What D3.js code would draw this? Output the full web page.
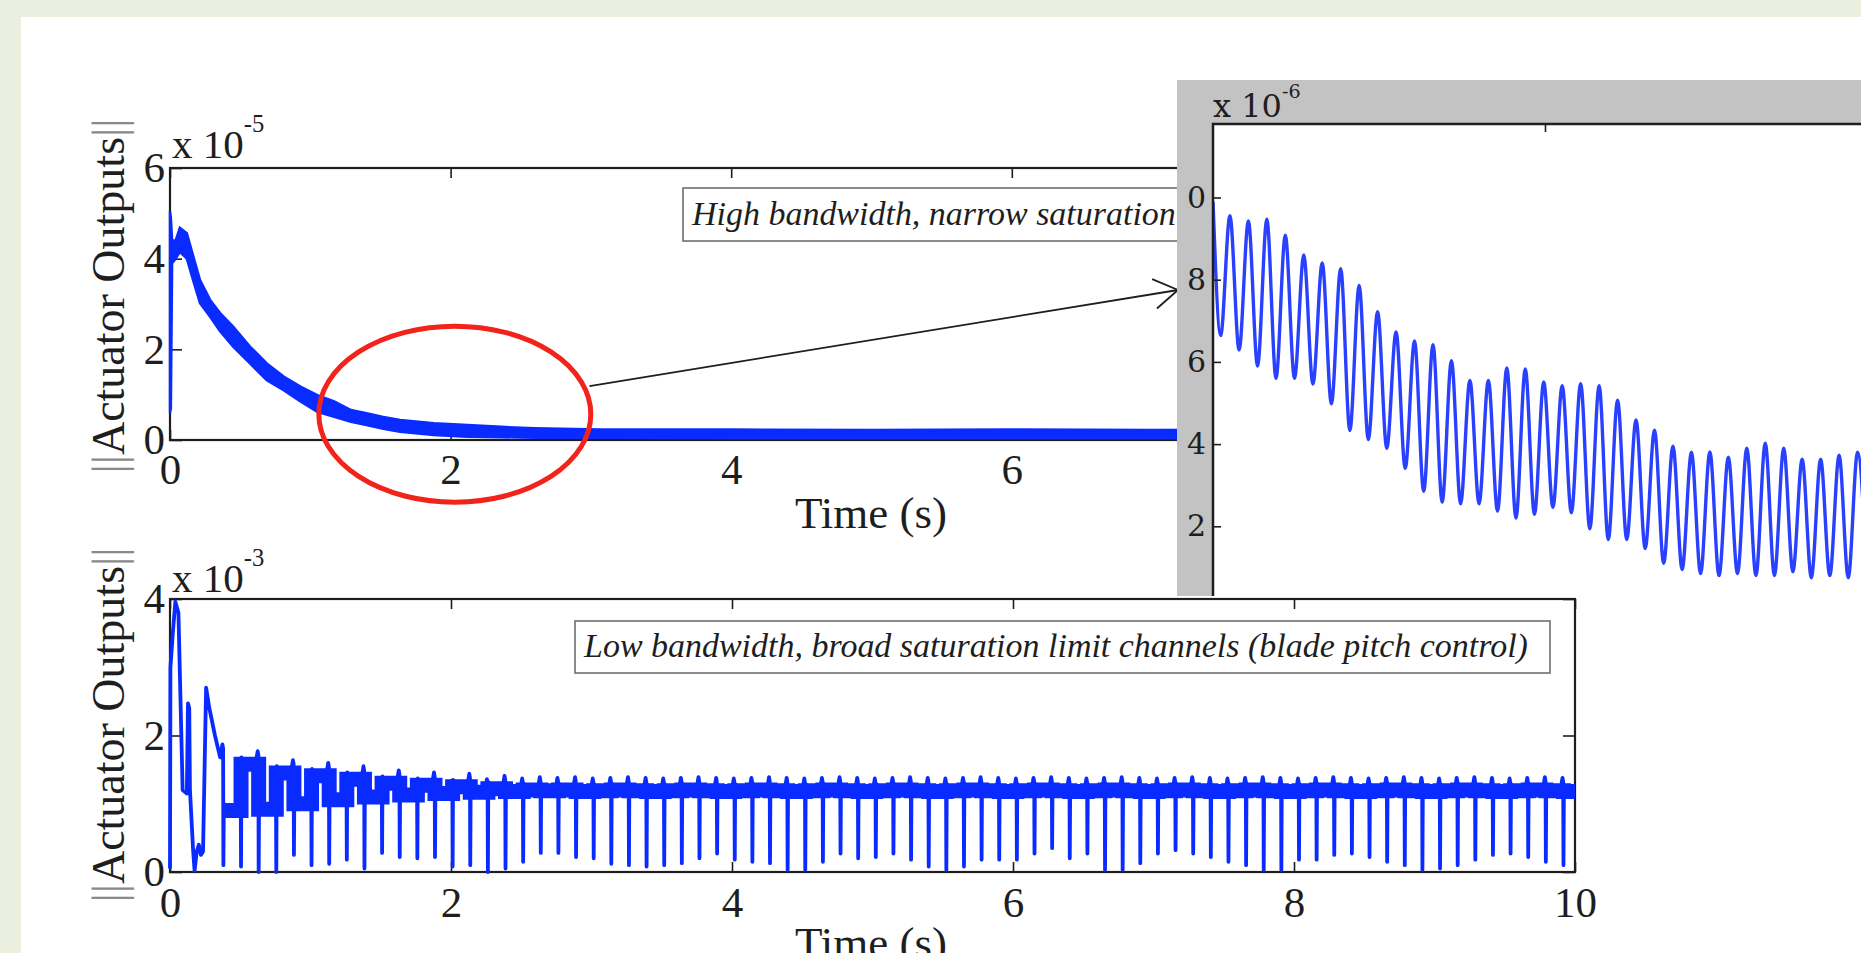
<!DOCTYPE html>
<html>
<head>
<meta charset="utf-8">
<script src="https://cdn.jsdelivr.net/npm/d3@7"></script>
<style>
  html, body { margin: 0; padding: 0; background: #ebefdf; overflow: hidden; }
  svg { display: block; }
</style>
</head>
<body>
<svg id="vis" width="1861" height="953"></svg>
<script>
// ---------- data ----------
const timeTicks = [0, 2, 4, 6, 8, 10]
const topYTicks = [0, 2, 4, 6]
const botYTicks = [0, 2, 4]
const insetYTicks = [2, 4, 6, 8, 10]

// top panel (x 1e-5): upper / lower edge of the noisy band
const topTime = [0, 0.006, 0.015, 0.04, 0.07, 0.12, 0.167, 0.214, 0.286, 0.357, 0.45, 0.57, 0.69, 0.81, 0.93, 1.05, 1.17, 1.29, 1.4, 1.52, 1.64, 1.88, 2.12, 2.36, 2.6, 3.07, 4, 5, 6, 7, 8, 9, 10]
const topHigh = [5.05, 4.9, 4.4, 4.4, 4.68, 4.56, 4.04, 3.53, 3.09, 2.8, 2.5, 2.06, 1.69, 1.4, 1.18, 0.99, 0.85, 0.66, 0.59, 0.51, 0.44, 0.37, 0.33, 0.29, 0.26, 0.23, 0.23, 0.22, 0.23, 0.22, 0.23, 0.22, 0.23]
const topLow  = [0.6, 0.7, 3.9, 4.0, 4.15, 4.0, 3.5, 3.02, 2.72, 2.4, 2.06, 1.69, 1.32, 1.1, 0.85, 0.62, 0.51, 0.4, 0.33, 0.25, 0.18, 0.11, 0.07, 0.06, 0.05, 0.05, 0.04, 0.04, 0.04, 0.04, 0.04, 0.04, 0.04]

// bottom panel (x 1e-3): start-up transient
const botStartTime = [0, 0.003, 0.02, 0.038, 0.06, 0.075, 0.09, 0.12, 0.128, 0.137, 0.142, 0.165, 0.175, 0.19, 0.205, 0.22, 0.235, 0.257, 0.28, 0.32, 0.357]
const botStartVal  = [0.05, 3.0, 3.5, 3.96, 3.8, 2.5, 1.2, 1.15, 2.47, 2.4, 1.2, 0.3, 0.02, 0.3, 0.4, 0.25, 0.3, 2.7, 2.4, 2.0, 1.68]
// periodic drops: first drop time, spacing, depth of each drop, band level after each drop
const dipFirst = 0.38
const dipPeriod = 0.1255
const dipDepth = [0.1, 0.08, 0.0, 0.0, 0.25, 0.1, 0.12, 0.18, 0.05, 0.28, 0.22, 0.2, 0.22, 0.08, 0.1, 0.0, 0.05, 0.15, 0.28, 0.28, 0.22, 0.2, 0.12,
  0.1, 0.08,
  0.1, 0.13, 0.2, 0.27, 0.18, 0.15, 0.13, 0.03, 0.03, 0.15, 0.27, 0.2, 0.22, 0.27, 0.18, 0.08, 0.03, 0.08, 0.18, 0.18, 0.18, 0.27, 0.35, 0.2, 0.27, 0.03, 0.03, 0.13, 0.27, 0.32, 0.27,
  0.22, 0.15, 0.1, 0.03, 0.03, 0.18, 0.18, 0.25, 0.27, 0.22, 0.15, 0.1, 0.03, 0.05, 0.1, 0.18, 0.25, 0.27, 0.22, 0.15, 0.1]
const bandLevel = [0.9, 1.58, 0.92, 1.45, 1.0, 1.41, 1.06, 1.36, 1.1, 1.3, 1.13, 1.27, 1.15, 1.25, 1.17, 1.22,
  1.18, 1.2, 1.19, 1.2, 1.18, 1.19, 1.2, 1.19, 1.18, 1.19, 1.2, 1.19, 1.18, 1.19, 1.2, 1.19, 1.18, 1.19, 1.2, 1.19,
  1.18, 1.19, 1.2, 1.19, 1.18, 1.19, 1.2, 1.19, 1.18, 1.19, 1.2, 1.19, 1.18, 1.19, 1.2, 1.19, 1.18, 1.19, 1.2, 1.19,
  1.18, 1.19, 1.2, 1.19, 1.18, 1.19, 1.2, 1.19, 1.18, 1.19, 1.2, 1.19, 1.18, 1.19, 1.2, 1.19, 1.18, 1.19, 1.2, 1.19, 1.18]

// zoomed inset (x 1e-6): peaks and troughs of each oscillation
const insetStart = 9.9
const insetFirstTrough = 0.023
const insetFirstPeak = 0.051
const insetPeriod = 0.0556
const insetPeaks = [9.56, 9.43, 9.47, 9.08, 8.6, 8.41, 8.27, 7.86, 7.22, 6.73, 6.51, 6.42, 6.03, 5.55, 5.55, 5.85, 5.83, 5.51, 5.42, 5.47, 5.42, 5.07, 4.59, 4.34, 3.95, 3.8, 3.81, 3.68, 3.9, 4.02, 3.9, 3.63, 3.63, 3.73, 3.8]
const insetTroughs = [6.64, 6.29, 5.9, 5.6, 5.6, 5.46, 4.98, 4.33, 4.11, 3.9, 3.41, 2.85, 2.59, 2.55, 2.55, 2.37, 2.2, 2.29, 2.46, 2.33, 1.94, 1.68, 1.68, 1.46, 1.1, 0.95, 0.85, 0.8, 0.85, 0.8, 0.8, 0.9, 0.75, 0.8, 0.75, 0.8]

const topNote = 'High bandwidth, narrow saturation'
const botNote = 'Low bandwidth, broad saturation limit channels (blade pitch control)'

// ---------- drawing ----------
const SERIF = '"Liberation Serif", "Times New Roman", serif'
const BLUE = '#0a2bff'
const INK = '#1e1e1e'
const TICK_FONT = 43

const svg = d3.select('#vis')
svg.append('rect').attr('x', 21).attr('y', 17).attr('width', 1861).attr('height', 953).attr('fill', '#fff')
const defs = svg.append('defs')

const xTop = d3.scaleLinear().domain([0, 10]).range([170, 1573])
const yTop = d3.scaleLinear().domain([0, 6]).range([440, 168])
const xBot = d3.scaleLinear().domain([0, 10]).range([170, 1575])
const yBot = d3.scaleLinear().domain([0, 4]).range([872, 599])

function styleAxis(g, size) {
  g.attr('font-family', SERIF).attr('font-size', size)
  g.selectAll('.domain').remove()
  g.selectAll('line').attr('stroke', INK).attr('stroke-width', 1.6)
  g.selectAll('text').attr('fill', INK)
}

function frame(x, y, yTicks, pad) {
  const [x0, x1] = x.range()
  const [y0, y1] = y.range()
  const g = svg.append('g')
  g.append('g').attr('transform', `translate(0,${y0})`)
    .call(d3.axisBottom(x).tickValues(timeTicks).tickSize(-10).tickPadding(pad).tickFormat(d3.format('d')))
    .call(styleAxis, TICK_FONT)
  g.append('g').attr('transform', `translate(0,${y1})`)
    .call(d3.axisTop(x).tickValues(timeTicks).tickSize(-10).tickFormat(''))
    .call(styleAxis, TICK_FONT)
  g.append('g').attr('transform', `translate(${x0},0)`)
    .call(d3.axisLeft(y).tickValues(yTicks).tickSize(-12).tickPadding(5).tickFormat(d3.format('d')))
    .call(styleAxis, TICK_FONT)
  g.append('g').attr('transform', `translate(${x1},0)`)
    .call(d3.axisRight(y).tickValues(yTicks).tickSize(-12).tickFormat(''))
    .call(styleAxis, TICK_FONT)
  g.append('rect').attr('x', x0).attr('y', y1).attr('width', x1 - x0).attr('height', y0 - y1)
    .attr('fill', 'none').attr('stroke', INK).attr('stroke-width', 2.2)
  return g
}

function exponent(parent, x, y, power, size, family, lift) {
  const t = parent.append('text').attr('x', x).attr('y', y)
    .attr('font-family', family).attr('font-size', size).attr('fill', INK)
  t.append('tspan').text('x 10')
  t.append('tspan').attr('dy', -lift).attr('font-size', size * 0.6).text(power)
}

function yTitle(cx, cy) {
  const t = svg.append('text').attr('transform', `translate(${cx},${cy}) rotate(-90)`)
    .attr('text-anchor', 'middle').attr('font-family', SERIF).attr('font-size', 46).attr('fill', INK)
  t.append('tspan').attr('fill', '#8a8a8a').text('||')
  t.append('tspan').text('Actuator Outputs')
  t.append('tspan').attr('fill', '#8a8a8a').text('||')
}

function xTitle(cx, y) {
  svg.append('text').attr('x', cx).attr('y', y).attr('text-anchor', 'middle')
    .attr('font-family', SERIF).attr('font-size', 45).attr('fill', INK).text('Time (s)')
}

// annotation font size fitted to the lower note
const noteProbe = svg.append('text').attr('font-family', SERIF).attr('font-style', 'italic')
  .attr('font-size', 34).text(botNote)
const noteSize = 34 * 944 / noteProbe.node().getComputedTextLength()
noteProbe.remove()

function note(x, y, w, h, text, clipId) {
  const g = svg.append('g')
  if (clipId) g.attr('clip-path', `url(#${clipId})`)
  g.append('rect').attr('x', x).attr('y', y).attr('width', w).attr('height', h)
    .attr('fill', '#fff').attr('stroke', '#6e6e6e').attr('stroke-width', 1.6)
  g.append('text').attr('x', x + 9).attr('y', y + h * 0.7)
    .attr('font-family', SERIF).attr('font-style', 'italic').attr('font-size', noteSize)
    .attr('fill', INK).text(text)
}

// ----- top panel -----
const topData = topTime.map((t, i) => ({ t, hi: topHigh[i], lo: topLow[i] }))
const topArea = d3.area().x(d => xTop(d.t)).y0(d => yTop(d.lo)).y1(d => yTop(d.hi))
frame(xTop, yTop, topYTicks, 13)
svg.append('path').attr('d', topArea(topData)).attr('fill', BLUE).attr('stroke', BLUE).attr('stroke-width', 2.5)
exponent(svg, 172, 158, '-5', 41, SERIF, 26)
yTitle(124, 296)
xTitle(871, 528)

defs.append('clipPath').attr('id', 'noteClip').append('rect')
  .attr('x', 0).attr('y', 0).attr('width', 1177).attr('height', 953)
note(683, 188, 600, 53, topNote, 'noteClip')

// highlight of the zoomed region and arrow to the inset
const zoomCenter = { t: 2.03, v: 0.57 }
svg.append('ellipse').attr('cx', xTop(zoomCenter.t)).attr('cy', yTop(zoomCenter.v))
  .attr('rx', 136).attr('ry', 88)
  .attr('fill', 'none').attr('stroke', '#f2231b').attr('stroke-width', 5)
const arrowFrom = [xTop(2.99), yTop(1.19)]
const arrowTo = [1178, 290]
svg.append('line').attr('x1', arrowFrom[0]).attr('y1', arrowFrom[1]).attr('x2', arrowTo[0]).attr('y2', arrowTo[1])
  .attr('stroke', INK).attr('stroke-width', 1.8)
{
  const dx = arrowFrom[0] - arrowTo[0], dy = arrowFrom[1] - arrowTo[1]
  const L = Math.hypot(dx, dy), bx = dx / L, by = dy / L
  const a = 32 * Math.PI / 180, len = 28
  const p1 = [arrowTo[0] + len * (bx * Math.cos(a) - by * Math.sin(a)), arrowTo[1] + len * (bx * Math.sin(a) + by * Math.cos(a))]
  const p2 = [arrowTo[0] + len * (bx * Math.cos(a) + by * Math.sin(a)), arrowTo[1] + len * (-bx * Math.sin(a) + by * Math.cos(a))]
  svg.append('path').attr('d', `M${p1}L${arrowTo}L${p2}`).attr('fill', 'none').attr('stroke', INK).attr('stroke-width', 1.8)
}

// ----- inset (zoom of the circled region) -----
const IN = { x: 1177, y: 80, w: 700, h: 516, ax: 1213, ay: 124 }
const insetX = d3.scaleLinear().domain([0, 2]).range([IN.ax, IN.ax + 664])
const insetY = d3.scaleLinear().domain([0, 10]).range([608.5, 197.5])
defs.append('clipPath').attr('id', 'insetClip').append('rect')
  .attr('x', IN.x).attr('y', IN.y).attr('width', IN.w).attr('height', IN.h)
defs.append('clipPath').attr('id', 'insetPlot').append('rect')
  .attr('x', IN.ax).attr('y', IN.ay).attr('width', IN.w).attr('height', IN.h)
defs.append('clipPath').attr('id', 'insetLabels').append('rect')
  .attr('x', 1184).attr('y', IN.y).attr('width', IN.w).attr('height', IN.h)

const inset = svg.append('g').attr('clip-path', 'url(#insetClip)')
inset.append('rect').attr('x', IN.x).attr('y', IN.y).attr('width', IN.w).attr('height', IN.h).attr('fill', '#c3c3c3')
inset.append('rect').attr('x', IN.ax).attr('y', IN.ay).attr('width', IN.w).attr('height', IN.h).attr('fill', '#fff')

const insetPts = [{ t: 0, v: insetStart }]
insetTroughs.forEach((v, k) => {
  insetPts.push({ t: insetFirstTrough + k * insetPeriod, v })
  if (k < insetPeaks.length) insetPts.push({ t: insetFirstPeak + k * insetPeriod, v: insetPeaks[k] })
})
inset.append('path').attr('clip-path', 'url(#insetPlot)')
  .attr('d', d3.line().x(d => insetX(d.t)).y(d => insetY(d.v)).curve(d3.curveMonotoneX)(insetPts))
  .attr('fill', 'none').attr('stroke', '#2a40ff').attr('stroke-width', 3.4)

const INSET_FONT = '"DejaVu Serif", serif'
inset.append('g').attr('clip-path', 'url(#insetLabels)')
  .append('g').attr('transform', `translate(${IN.ax},0)`)
  .call(d3.axisLeft(insetY).tickValues(insetYTicks).tickSize(-8).tickPadding(7).tickFormat(d3.format('d')))
  .call(styleAxis, 30)
  .attr('font-family', INSET_FONT)
inset.append('g').attr('transform', `translate(0,${IN.ay})`)
  .call(d3.axisTop(insetX).tickValues([1]).tickSize(-8).tickFormat(''))
  .call(styleAxis, 30)
inset.append('path').attr('d', `M${IN.ax},${IN.y + IN.h}V${IN.ay}H${IN.x + IN.w}`)
  .attr('fill', 'none').attr('stroke', INK).attr('stroke-width', 2.5)
exponent(inset, IN.ax, 117, '-6', 32, INSET_FONT, 19)

// ----- bottom panel -----
frame(xBot, yBot, botYTicks, 14)
note(575, 621, 975, 52, botNote)

const bandPts = []
const sigPts = botStartTime.map((t, i) => ({ t, v: botStartVal[i] }))
dipDepth.forEach((depth, i) => {
  const t = dipFirst + i * dipPeriod
  const before = i === 0 ? botStartVal[botStartVal.length - 1] : bandLevel[i - 1]
  const after = bandLevel[i]
  sigPts.push({ t: t - 0.022, v: before }, { t: t - 0.007, v: before + 0.19 }, { t: t - 0.002, v: before + 0.13 },
    { t, v: depth }, { t: t + 0.003, v: after + 0.1 }, { t: t + 0.02, v: after })
  bandPts.push({ t, v: after })
})
sigPts.push({ t: 10, v: bandLevel[bandLevel.length - 1] })
bandPts.push({ t: 10, v: bandLevel[bandLevel.length - 1] })

const botLine = d3.line().x(d => xBot(d.t)).y(d => yBot(d.v))
svg.append('path').attr('d', botLine.curve(d3.curveStepAfter)(bandPts))
  .attr('fill', 'none').attr('stroke', BLUE).attr('stroke-width', 15)
svg.append('path').attr('d', botLine.curve(d3.curveLinear)(sigPts))
  .attr('fill', 'none').attr('stroke', BLUE).attr('stroke-width', 3.8).attr('stroke-linejoin', 'round')

exponent(svg, 172, 592, '-3', 41, SERIF, 26)
yTitle(124, 725)
xTitle(871, 958)
</script>
</body>
</html>
